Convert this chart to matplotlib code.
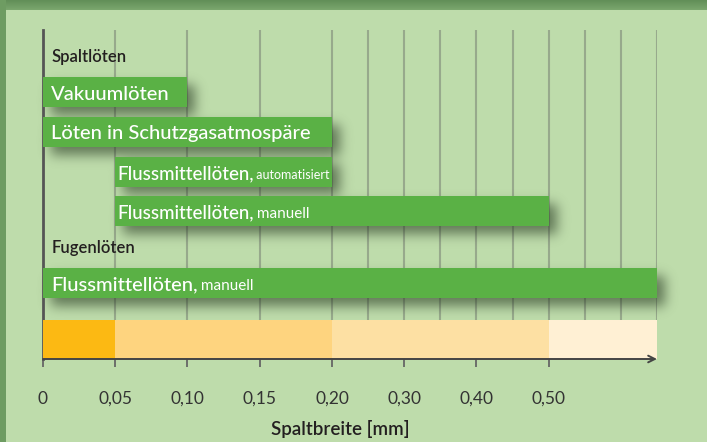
import numpy as np
import matplotlib
matplotlib.use("Agg")
import matplotlib.pyplot as plt
from matplotlib import font_manager

# ---------------- data ----------------
group_labels = ["Spaltlöten", "Fugenlöten"]
bar_main = ["Vakuumlöten", "Löten in Schutzgasatmospäre", "Flussmittellöten,",
            "Flussmittellöten,", "Flussmittellöten,"]
bar_sub = ["", "", "automatisiert", "manuell", "manuell"]
bar_start = [0.0, 0.0, 0.05, 0.05, 0.0]
bar_end = [0.10, 0.20, 0.20, 0.50, 0.65]
strip_edges = [0.0, 0.05, 0.20, 0.50, 0.65]
tick_values = [0.0, 0.05, 0.10, 0.15, 0.20, 0.30, 0.40, 0.50]
tick_labels = ["0", "0,05", "0,10", "0,15", "0,20", "0,30", "0,40", "0,50"]
minor_grid = [0.25, 0.35, 0.45, 0.55, 0.60, 0.65]
x_label = "Spaltbreite [mm]"

# ---------------- style / layout ----------------
W, H = 707, 442
names = {f.name for f in font_manager.fontManager.ttflist}
FONT = "Lato" if "Lato" in names else "DejaVu Sans"
plt.rcParams["font.family"] = [FONT, "DejaVu Sans"]

BG = np.array([0xbe, 0xdc, 0xab]) / 255
BAR = "#5ab145"
STRIP = ["#fcb913", "#fed47f", "#fde0a3", "#fff0d4"]
GRID = "#97a98c"
DARK = "#231f20"

bar_rows = [92, 132, 171.5, 210.5, 282.5]   # pixel rows (layout)
group_rows = [57, 248]
bar_h = 30
strip_row, strip_h = 339.5, 39

fig = plt.figure(figsize=(W / 100, H / 100), dpi=100)

# background with darker top/left border
bg = np.ones((H, W, 3)) * BG
top = np.linspace(0, 1, 10)[:, None]
c0 = np.array([0x62, 0x8f, 0x58]) / 255
c1 = np.array([0x7a, 0xa6, 0x6d]) / 255
bg[:10, :, :] = (c0 * (1 - top) + c1 * top)[:, None, :]
bg[:, :6, :] = np.array([0x6e, 0x9c, 0x62]) / 255
fig.figimage(bg, xo=0, yo=0, origin="upper", zorder=-1)

ax = fig.add_axes([43 / W, (H - 359) / H, 614 / W, (359 - 30) / H])
ax.patch.set_visible(False)


def fwd(x):
    return np.interp(x, [0, 0.2, 0.65], [0, 4, 8.5])


def inv(u):
    return np.interp(u, [0, 4, 8.5], [0, 0.2, 0.65])


ax.set_xscale("function", functions=(fwd, inv))
ax.set_xlim(0, 0.65)
ax.set_ylim(359, 30)

# shadows
dx, dy, sigma = 8, 8, 6.0
mask = np.zeros((H, W))
for s, e, r in zip(bar_start, bar_end, bar_rows):
    x0, y0 = ax.transData.transform((s, r - bar_h / 2))
    x1, y1 = ax.transData.transform((e, r + bar_h / 2))
    rt, rb = int(round(H - y0 + dy)), int(round(H - y1 + dy))
    c0_, c1_ = int(round(x0 + dx)), int(round(x1 + dx))
    mask[rt:rb, c0_:c1_] = 1
k = np.arange(-int(3 * sigma), int(3 * sigma) + 1)
k = np.exp(-k ** 2 / (2 * sigma ** 2))
k /= k.sum()
blur = np.apply_along_axis(lambda v: np.convolve(v, k, mode="same"), 1, mask)
blur = np.apply_along_axis(lambda v: np.convolve(v, k, mode="same"), 0, blur)
shadow = np.zeros((H, W, 4))
shadow[..., :3] = np.array([0x25, 0x38, 0x20]) / 255
shadow[..., 3] = np.clip(blur, 0, 1) * 0.6
ax.imshow(shadow, extent=(0, 1, 0, 1), transform=fig.transFigure, origin="upper",
          aspect="auto", zorder=1.5, clip_on=False, interpolation="bilinear")
ax.set_xlim(0, 0.65)
ax.set_ylim(359, 30)

# bars
ax.barh(bar_rows, np.subtract(bar_end, bar_start), left=bar_start, height=bar_h,
        color=BAR, zorder=3)
ax.barh([strip_row] * (len(strip_edges) - 1), np.diff(strip_edges),
        left=strip_edges[:-1], height=strip_h, color=STRIP, zorder=3)

# bar labels
main_sizes = [14.5, 14.5, 13.5, 13.5, 14.5]
for s, r, m, sub, fsm in zip(bar_start, bar_rows, bar_main, bar_sub, main_sizes):
    off = 8 if s == 0 else 2
    t = ax.annotate(m, xy=(s, r + 7.5), xytext=(off, 0), textcoords="offset pixels",
                    va="baseline", ha="left", color="white", fontsize=fsm,
                    fontweight="medium", zorder=5)
    if sub:
        fs = 9 if sub == "automatisiert" else 11
        ax.annotate(" " + sub, xy=(1, r + 7.5), xycoords=(t, "data"), xytext=(-1, 0),
                    textcoords="offset pixels", va="baseline", ha="left",
                    color="white", fontsize=fs, zorder=5)

for g, r in zip(group_labels, group_rows):
    ax.annotate(g, xy=(0, r), xytext=(9, 0), textcoords="offset pixels", va="center",
                ha="left", color=DARK, fontsize=12, fontweight="semibold", zorder=5)

# axis, grid, ticks
ax.set_xticks(tick_values, labels=tick_labels)
ax.set_xticks(minor_grid, minor=True)
ax.set_yticks([])
ax.grid(axis="x", which="both", color=GRID, lw=1.5)
ax.set_axisbelow(True)
ax.tick_params(axis="x", which="major", direction="out", length=6, width=1.3,
               color="#666666", pad=17, labelsize=12.5, labelcolor="#333333")
ax.tick_params(axis="x", which="minor", length=0)
for sp in ["top", "right", "bottom"]:
    ax.spines[sp].set_visible(False)
ax.spines["left"].set_color("#555555")
ax.spines["left"].set_linewidth(2)

ax.annotate("", xy=(0.65, 359), xytext=(0, 359),
            arrowprops=dict(arrowstyle="->", color="#444444", lw=1.4,
                            shrinkA=0, shrinkB=0, mutation_scale=12),
            annotation_clip=False, zorder=6)

ax.set_xlabel(x_label, fontsize=13.5, color=DARK, fontweight="semibold")
ax.xaxis.set_label_coords((340 - 43) / 614, (359 - 429) / 329)
ax.xaxis.label.set_va("center")

fig.savefig("out.png", dpi=100)
